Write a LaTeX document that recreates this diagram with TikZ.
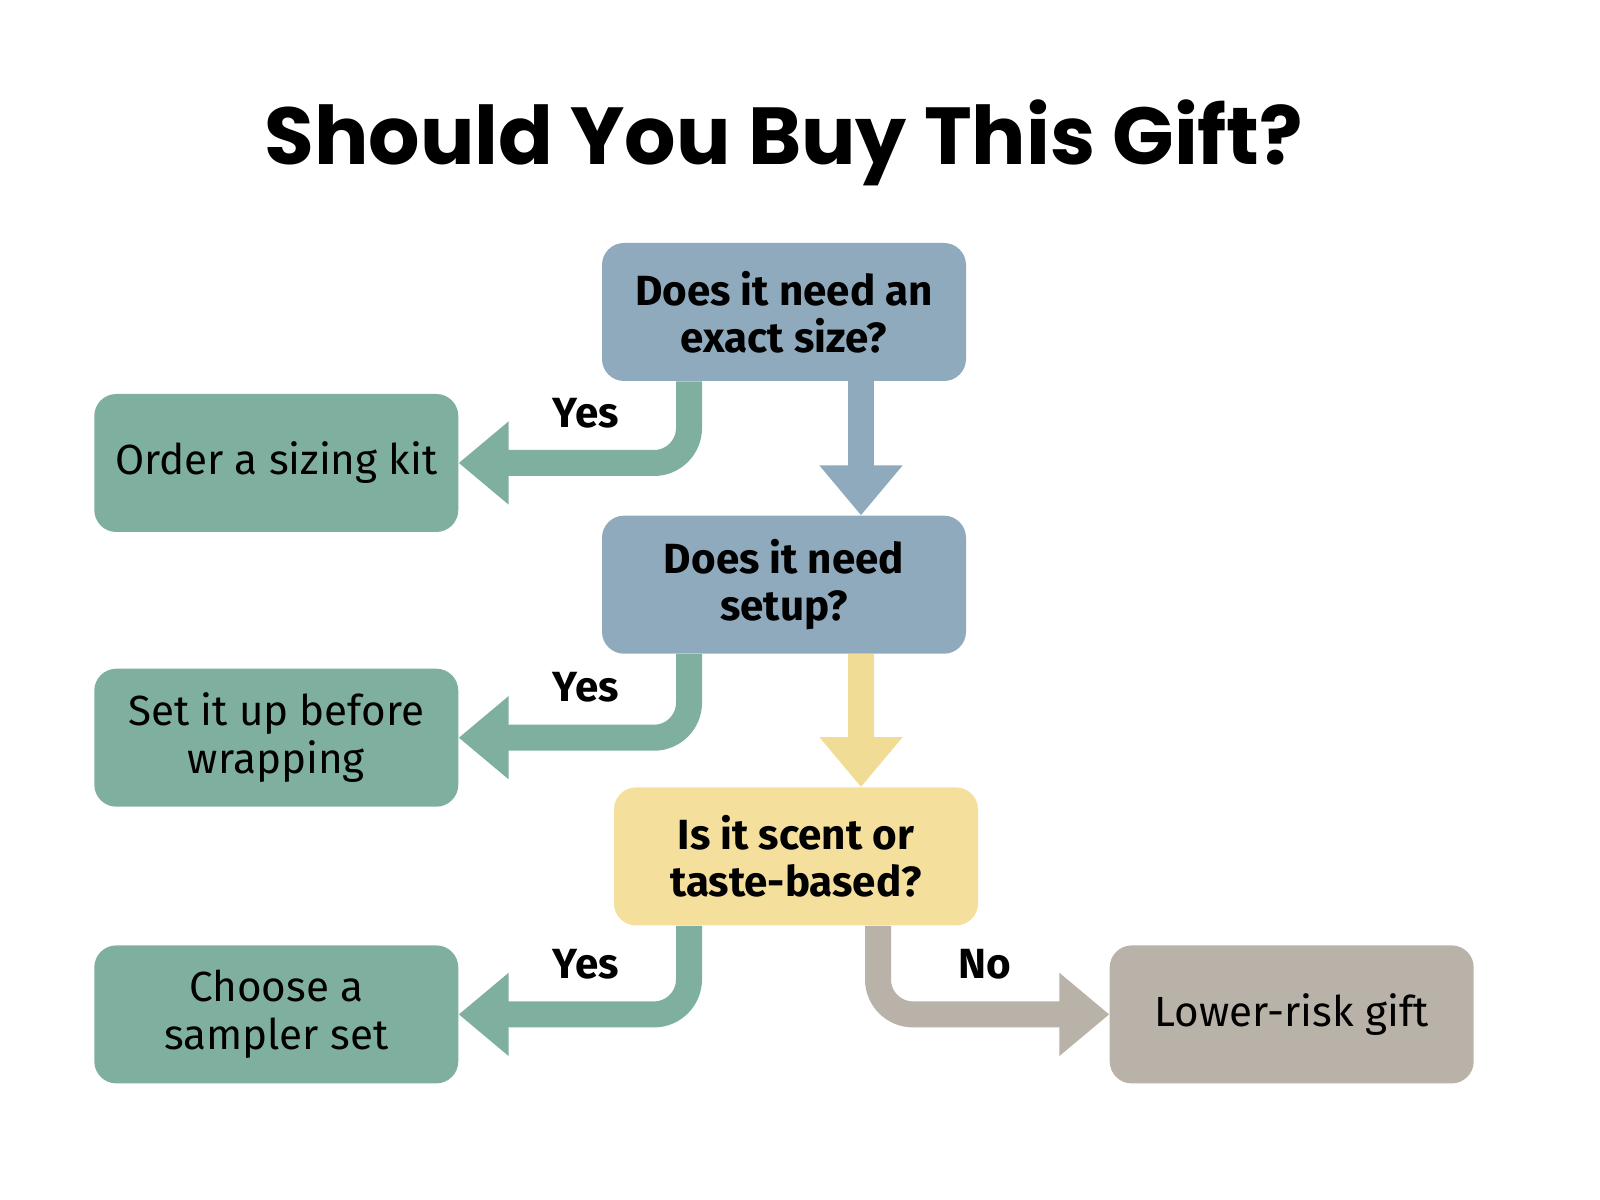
\documentclass[tikz,border=0pt]{standalone}
\usepackage{fontspec}
\setmainfont{Fira Sans}
\newfontfamily\titlefont{Poppins}
\usepackage{tikz}
\usetikzlibrary{positioning,arrows.meta}
\definecolor{qblue}{HTML}{8FAABD}
\definecolor{qyellow}{HTML}{F4DF9D}
\definecolor{ayellow}{HTML}{F1DC95}
\definecolor{agreen}{HTML}{7FB09F}
\definecolor{agrey}{HTML}{B9B2A8}
\tikzstyle{question} = [rectangle, fill=qblue, rounded corners=0.44cm, minimum width=7.28cm, minimum height=2.76cm, inner sep=0pt, align=center, font=\fontsize{24}{27}\selectfont\bfseries]
\tikzstyle{answer} = [rectangle, fill=agreen, rounded corners=0.44cm, minimum width=7.28cm, minimum height=2.76cm, inner sep=0pt, align=center, font=\fontsize{24}{27}\selectfont]
\tikzstyle{choice} = [inner sep=0pt, text=black, font=\fontsize{24}{27}\selectfont\bfseries]
\tikzstyle{connector} = [line width=0.52cm, rounded corners=0.7cm, -{Triangle[length=1cm, width=1.6cm]}]

\begin{document}
\begin{tikzpicture}
    \useasboundingbox (0,0) rectangle (32,-24);
    \node (title) [anchor=base, font=\titlefont\bfseries\fontsize{46}{54}\selectfont] at (15.68,-3.30) {Should You Buy This Gift?};
    \node (size) [question] at (15.68,-6.24) {Does it need an\\exact size?};
    \node (setup) [question, below=2.68cm of size] {Does it need\\setup?};
    \node (scent) [question, fill=qyellow, below=2.66cm of setup, xshift=0.24cm] {Is it scent or\\taste-based?};
    \node (kit) [answer, left=2.86cm of size, yshift=-3.02cm] {Order a sizing kit};
    \node (wrap) [answer, left=2.86cm of setup, yshift=-3.06cm] {Set it up before\\wrapping};
    \node (sampler) [answer, left=3.10cm of scent, yshift=-3.16cm] {Choose a\\sampler set};
    \node (gift) [answer, fill=agrey, right=2.62cm of scent, yshift=-3.16cm] {Lower-risk gift};
    \draw [connector, agreen] ([xshift=-1.9cm]size.south) |- node[choice, pos=0.75, above=0.44cm, xshift=0.24cm] {Yes} (kit.east);
    \draw [connector, qblue] ([xshift=1.54cm]size.south) -- ([xshift=1.54cm]setup.north);
    \draw [connector, agreen] ([xshift=-1.9cm]setup.south) |- node[choice, pos=0.75, above=0.44cm, xshift=0.24cm] {Yes} (wrap.east);
    \draw [connector, ayellow] ([xshift=1.54cm]setup.south) -- ([xshift=1.30cm]scent.north);
    \draw [connector, agreen] ([xshift=-2.14cm]scent.south) |- node[choice, pos=0.75, above=0.44cm, xshift=0.24cm] {Yes} (sampler.east);
    \draw [connector, agrey] ([xshift=1.64cm]scent.south) |- node[choice, pos=0.75, above=0.44cm, xshift=-0.17cm] {No} (gift.west);
\end{tikzpicture}
\end{document}
